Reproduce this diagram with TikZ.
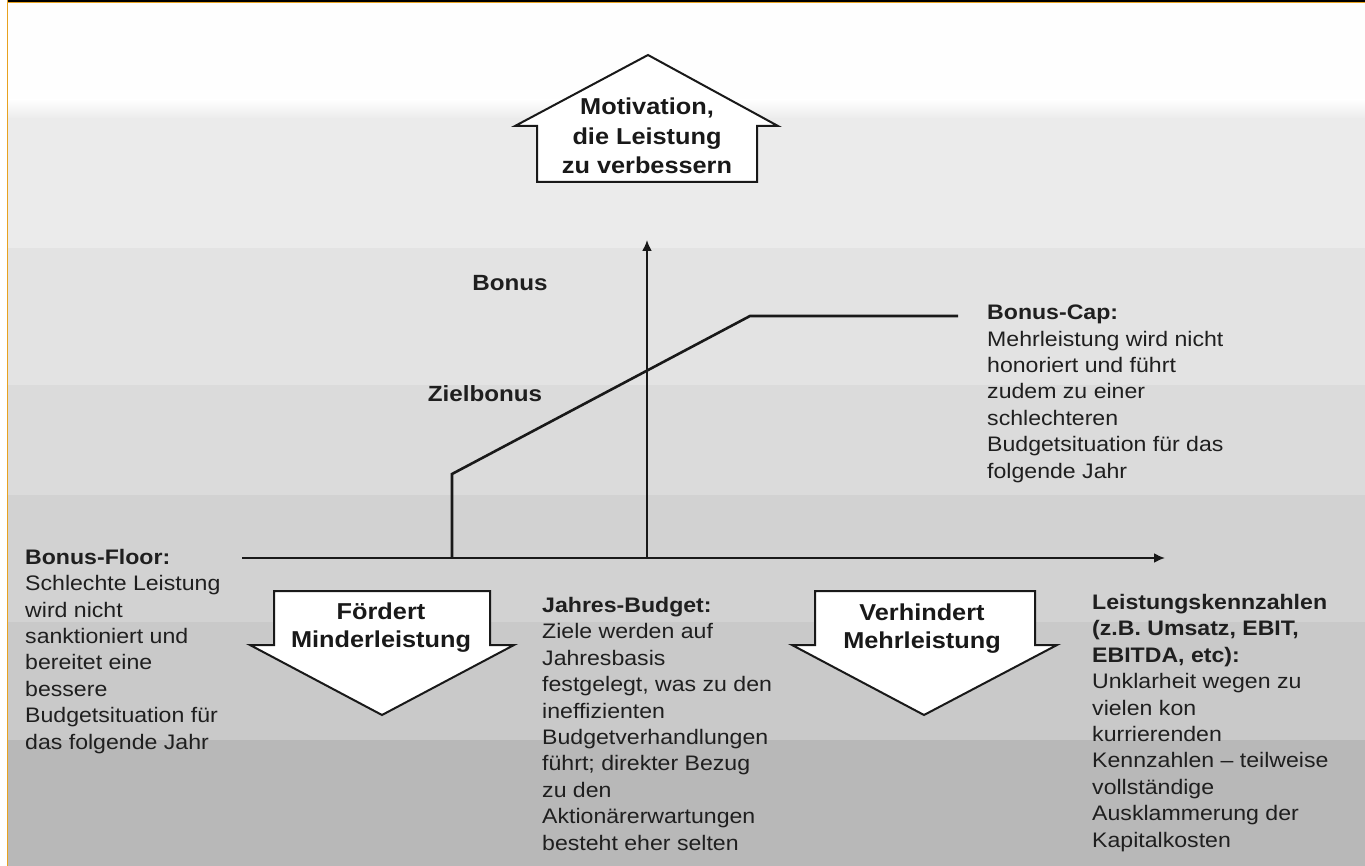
\documentclass[tikz,border=0pt]{standalone}
\usepackage{fontspec}
\setmainfont{Liberation Sans}
\newfontfamily\labfont[FakeStretch=1.1]{Liberation Sans}
\usetikzlibrary{arrows.meta}
\definecolor{bandA}{RGB}{254,254,254}
\definecolor{bandB}{RGB}{235,235,235}
\definecolor{bandC}{RGB}{227,227,227}
\definecolor{bandD}{RGB}{219,219,219}
\definecolor{bandE}{RGB}{210,210,210}
\definecolor{bandF}{RGB}{201,201,201}
\definecolor{bandG}{RGB}{184,184,184}
\definecolor{framec}{RGB}{232,162,32}
\tikzset{
  axisline/.style={line width=2pt, draw=black!90, -{Latex[length=11pt,width=10pt]}},
  curveline/.style={line width=2.6pt, draw=black!90, line join=miter},
  shapebox/.style={fill=white, draw=black!90, line width=2pt, line join=miter},
  bodytext/.style={inner sep=0pt, align=left, text=black!88,
    font=\labfont\fontsize{21}{26.4}\selectfont},
  headtext/.style={inner sep=0pt, align=center, text=black!90,
    font=\labfont\bfseries\fontsize{23}{29.5}\selectfont},
  arrowtext/.style={inner sep=0pt, align=center, text=black!90,
    font=\labfont\bfseries\fontsize{23}{28}\selectfont},
  axislabel/.style={inner sep=0pt, text=black!88,
    font=\labfont\bfseries\fontsize{22}{26}\selectfont}
}
\begin{document}
\begin{tikzpicture}[x=1pt,y=-1pt]
\useasboundingbox (0,0) rectangle (1365,866);
% background bands
\fill[white] (0,0) rectangle (1365,866);
\fill[bandA] (8,0) rectangle (1365,100);
\shade[top color=bandA,bottom color=bandB] (8,100) rectangle (1365,118.5);
\fill[bandB] (8,118) rectangle (1365,248);
\fill[bandC] (8,248) rectangle (1365,385);
\fill[bandD] (8,385) rectangle (1365,495);
\fill[bandE] (8,495) rectangle (1365,622);
\fill[bandF] (8,622) rectangle (1365,740);
\fill[bandG] (8,740) rectangle (1365,866);
% frame
\fill[black] (6.7,0) rectangle (1365,2.2);
\fill[framec] (6.7,2.2) rectangle (1365,3.5);
\fill[framec] (6.7,0) rectangle (8.3,866);

% house (up arrow)
\draw[shapebox] (537,182) -- (537,126) -- (515,126) -- (648,55) -- (778,126)
  -- (757,126) -- (757,182) -- cycle;
\node[headtext, anchor=base] (motiv) at (647,174)
  {Motivation,\\die Leistung\\zu verbessern};

% axes
\coordinate (xstart) at (242,558);
\coordinate (xend) at (1165,558);
\coordinate (ybase) at (647,558);
\coordinate (ytop) at (647,240);
\draw[axisline] (xstart) -- (xend);
\draw[axisline] (ybase) -- (ytop);

% bonus curve
\coordinate (c0) at (452,558);
\coordinate (c1) at (452,474);
\coordinate (c2) at (750,316);
\coordinate (c3) at (958,316);
\draw[curveline] (c0) -- (c1) -- (c2) -- (c3);

\node[axislabel, anchor=base] (bonus) at (510,291) {Bonus};
\node[axislabel, anchor=base] (ziel) at (485,401) {Zielbonus};

% down arrows
\draw[shapebox] (274,591) -- (490,591) -- (490,645) -- (514,645) -- (382,715)
  -- (250,645) -- (274,645) -- cycle;
\node[arrowtext, anchor=base] (foerdert) at (381,647) {Fördert\\Minderleistung};

\draw[shapebox] (815,591) -- (1035,591) -- (1035,645) -- (1057,645) -- (924,715)
  -- (792,645) -- (815,645) -- cycle;
\node[arrowtext, anchor=base] (verhindert) at (922,648) {Verhindert\\Mehrleistung};

% texts
\node[bodytext, anchor=base west] (floor) at (25,749)
  {\textbf{Bonus-Floor:}\\Schlechte Leistung\\wird nicht\\sanktioniert und\\bereitet eine\\bessere\\Budgetsituation für\\das folgende Jahr};
\node[bodytext, anchor=base west] (cap) at (987,478)
  {\textbf{Bonus-Cap:}\\Mehrleistung wird nicht\\honoriert und führt\\zudem zu einer\\schlechteren\\Budgetsituation für das\\folgende Jahr};
\node[bodytext, anchor=base west] (budget) at (542,850)
  {\textbf{Jahres-Budget:}\\Ziele werden auf\\Jahresbasis\\festgelegt, was zu den\\ineffizienten\\Budgetverhandlungen\\führt; direkter Bezug\\zu den\\Aktionärerwartungen\\besteht eher selten};
\node[bodytext, anchor=base west] (kennz) at (1092,847)
  {\textbf{Leistungskennzahlen}\\\textbf{(z.B. Umsatz, EBIT,}\\\textbf{EBITDA, etc):}\\Unklarheit wegen zu\\vielen kon\\kurrierenden\\Kennzahlen – teilweise\\vollständige\\Ausklammerung der\\Kapitalkosten};
\end{tikzpicture}
\end{document}
